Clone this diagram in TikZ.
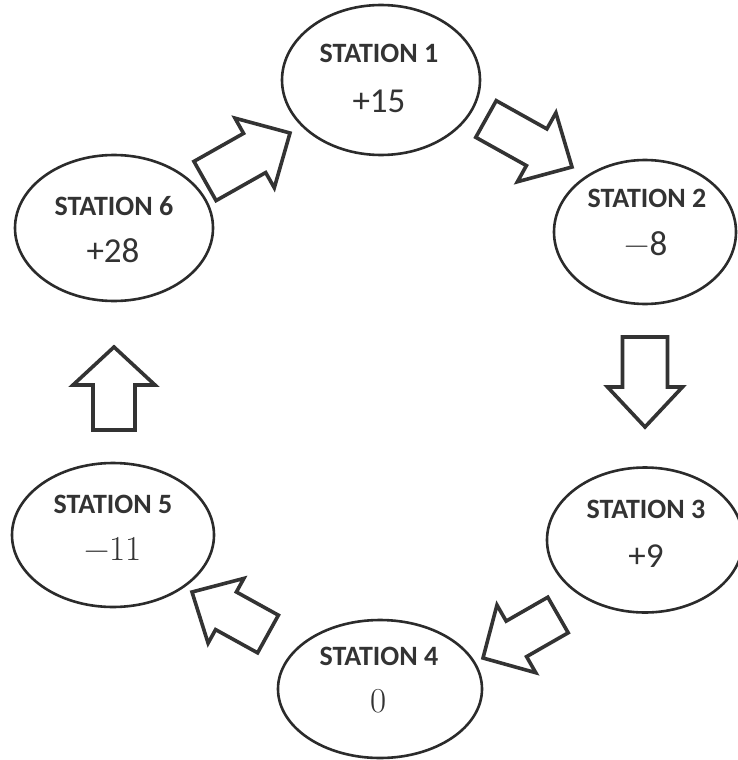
\documentclass[tikz,border=0pt]{standalone}
\usepackage{fontspec}
\setmainfont{Carlito}
\newfontfamily\numserif{Latin Modern Roman}
\usetikzlibrary{calc,shapes.geometric}
\definecolor{ink}{HTML}{333333}
\definecolor{rim}{HTML}{2B2B2B}
\tikzset{
  station/.style={ellipse, draw=rim, line width=2.6pt, inner sep=0pt},
  stitle/.style={font=\fontsize{28}{28}\selectfont\bfseries, text=ink, anchor=base, inner sep=0pt},
  snum/.style={font=\fontsize{35}{35}\selectfont, text=ink, anchor=base, inner sep=0pt},
  sernum/.style={font=\fontsize{35}{35}\selectfont\numserif, text=ink, anchor=base, inner sep=0pt},
  blockarrow/.style={draw=ink, line width=3.6pt, line join=miter, fill=white}
}
% #1 tail, #2 tip, #3 shaft length, #4 shaft half width, #5 head half width
\newcommand{\blockarr}[5]{%
  \coordinate (hb) at ($(#1)!#3!(#2)$);
  \draw[blockarrow] ($(#1)!#4!90:(#2)$) -- ($(hb)!#4!90:(#2)$) -- ($(hb)!#5!90:(#2)$)
    -- (#2) -- ($(hb)!#5!-90:(#2)$) -- ($(hb)!#4!-90:(#2)$) -- ($(#1)!#4!-90:(#2)$) -- cycle;
}
\begin{document}
\begin{tikzpicture}[x=1pt, y=-1pt]
\useasboundingbox[fill=white] (0,0) rectangle (737,760);
% stations
\node[station, minimum width=198pt, minimum height=150pt] (s1) at (381,80) {};
\node[stitle] (s1t) at (379,63) {STATION 1};
\node[snum] (s1v) at (379,112) {+15};

\node[station, minimum width=182pt, minimum height=144pt] (s2) at (645,232) {};
\node[stitle] (s2t) at (647,207) {STATION 2};
\node[snum] (s2v) at (646,255) {{\numserif −}8};

\node[station, minimum width=196pt, minimum height=145pt] (s3) at (645,540) {};
\node[stitle] (s3t) at (646,518) {STATION 3};
\node[snum] (s3v) at (646,567) {+9};

\node[station, minimum width=204pt, minimum height=138pt] (s4) at (380,689) {};
\node[stitle] (s4t) at (379,665) {STATION 4};
\node[sernum] (s4v) at (379,712) {0};

\node[station, minimum width=202pt, minimum height=144pt] (s5) at (113,535) {};
\node[stitle] (s5t) at (113,513) {STATION 5};
\node[sernum] (s5v) at (113,560) {−11};

\node[station, minimum width=198pt, minimum height=146pt] (s6) at (114,228) {};
\node[stitle] (s6t) at (114,215) {STATION 6};
\node[snum] (s6v) at (113,262) {+28};

% block arrows
\coordinate (t61) at (205,181); \coordinate (p61) at (290,133);
\blockarr{t61}{p61}{57pt}{22.5pt}{40pt}
\coordinate (t12) at (486,119); \coordinate (p12) at (572,167);
\blockarr{t12}{p12}{58pt}{21pt}{39.5pt}
\coordinate (t23) at (645,337); \coordinate (p23) at (645,427);
\blockarr{t23}{p23}{50pt}{22.5pt}{37.5pt}
\coordinate (t34) at (558,615); \coordinate (p34) at (483,658);
\blockarr{t34}{p34}{48pt}{20.5pt}{39pt}
\coordinate (t45) at (268,634); \coordinate (p45) at (192,592);
\blockarr{t45}{p45}{48pt}{21.5pt}{37pt}
\coordinate (t56) at (114,430); \coordinate (p56) at (114,347);
\blockarr{t56}{p56}{45pt}{21pt}{41pt}
\end{tikzpicture}
\end{document}
